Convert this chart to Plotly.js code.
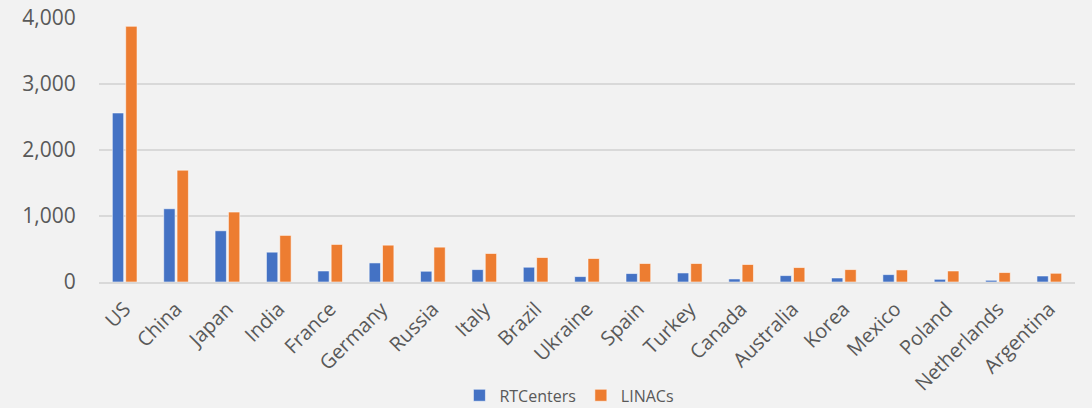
<!DOCTYPE html>
<html>
<head>
<meta charset="utf-8">
<script src="https://cdn.plot.ly/plotly-3.0.1.min.js"></script>
<style>html,body{margin:0;padding:0;background:#f2f2f2;}#chart{width:1092px;height:408px;}</style>
</head>
<body>
<div id="chart"></div>
<script>
const countries = ["US","China","Japan","India","France","Germany","Russia","Italy","Brazil","Ukraine","Spain","Turkey","Canada","Australia","Korea","Mexico","Poland","Netherlands","Argentina"];
const rtCenters = [2561,1110,776,452,167,289,163,188,224,82,128,137,46,97,61,112,41,26,91];
const linacs = [3874,1694,1060,706,569,558,528,432,371,356,280,280,265,219,188,183,167,143,132];
const yTicks = [0,1000,2000,3000,4000];
const yTickText = ["0","1,000","2,000","3,000","4,000"];

const font = "'Open Sans', sans-serif";
const traces = [
  {type:"bar", name:"RTCenters", x:countries, y:rtCenters,
   marker:{color:"#4472c4", line:{color:"rgba(255,255,255,0.55)", width:1}}},
  {type:"bar", name:"LINACs", x:countries, y:linacs,
   marker:{color:"#ed7d31", line:{color:"rgba(255,255,255,0.55)", width:1}}}
];
const layout = {
  width:1092, height:408,
  paper_bgcolor:"#f2f2f2", plot_bgcolor:"#f2f2f2",
  margin:{l:99, r:17, t:18, b:126, autoexpand:false},
  barmode:"group", bargap:0.48, bargroupgap:0.15,
  font:{family:font, color:"#595959"},
  xaxis:{tickangle:-45, tickfont:{size:20, color:"#595959"}, showgrid:false, zeroline:false, automargin:false,
         showline:true, linecolor:"#d9d9d9", linewidth:1.5, ticks:"outside", ticklen:6, tickcolor:"rgba(0,0,0,0)"},
  yaxis:{range:[0,4000], tickvals:yTicks, ticktext:yTickText, tickfont:{size:21, color:"#595959"}, automargin:false,
         gridcolor:"#d9d9d9", gridwidth:1.5, zeroline:false, showline:false,
         ticks:"outside", ticklen:18, tickcolor:"rgba(0,0,0,0)"},
  legend:{orientation:"h", x:0.482, xanchor:"center", y:-0.365, yanchor:"top",
          font:{size:16, color:"#595959"}, itemwidth:30, bgcolor:"rgba(0,0,0,0)"},
  showlegend:true
};
Plotly.newPlot("chart", traces, layout, {displayModeBar:false, staticPlot:true});
</script>
</body>
</html>
